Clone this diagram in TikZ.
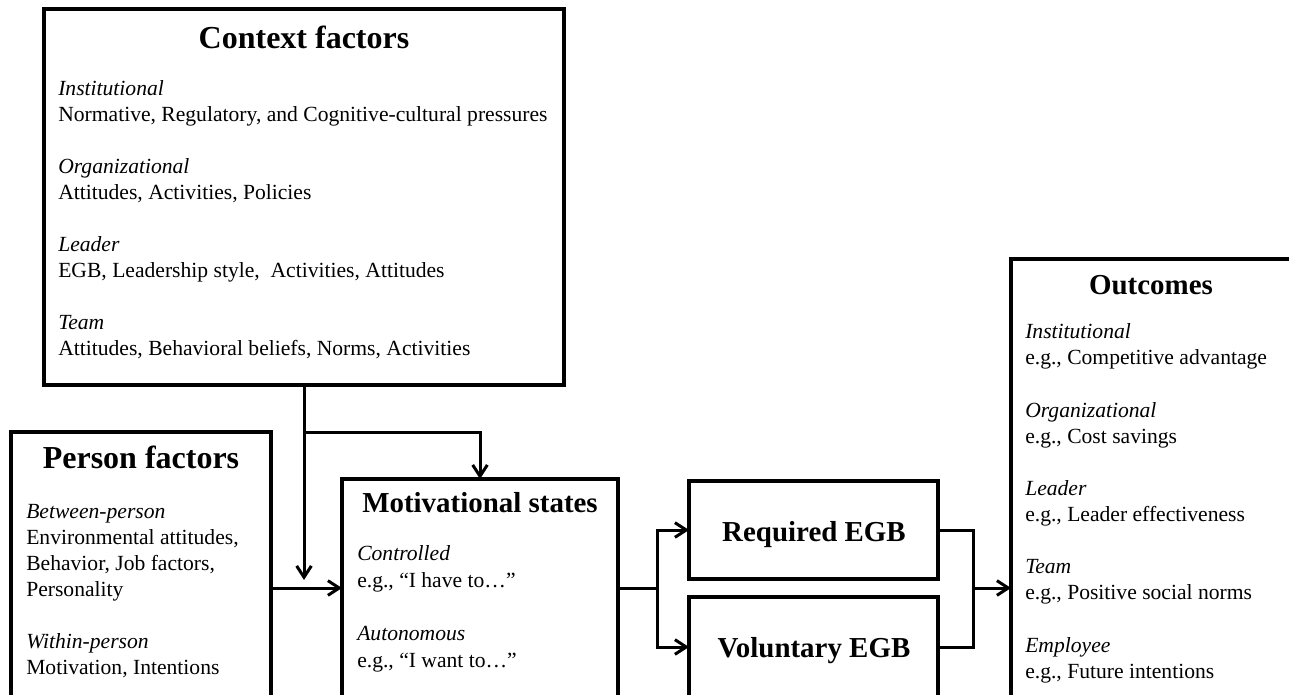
\documentclass[tikz,border=0pt]{standalone}
\usepackage{fontspec}
\setmainfont{Liberation Serif}
\usetikzlibrary{arrows.meta}
\frenchspacing

\begin{document}
\begin{tikzpicture}[x=0.75pt,y=-0.75pt,>={Straight Barb[length=8.5pt,width=11pt]},
    box node/.style={draw,line width=2.8pt,rectangle,anchor=north west,inner sep=0pt,outer sep=0pt},
    big title/.style={font=\bfseries\fontsize{24}{28}\selectfont,text height=16.3pt,text depth=0pt,inner sep=0pt},
    small title/.style={font=\bfseries\fontsize{21.7}{26}\selectfont,text height=14.8pt,text depth=0pt,inner sep=0pt},
    body node/.style={anchor=north west,align=left,inner sep=0pt,font=\fontsize{16.2}{19.5}\selectfont},
    link/.style={line width=2.25pt}]
    \useasboundingbox (0,0) rectangle (1289,695);
    \clip (0,0) rectangle (1289,695);

    % boxes
    \node[box node,minimum width=390pt,minimum height=282pt] (context) at (44,9) {};
    \node[box node,minimum width=195pt,minimum height=216pt] (person) at (11,432) {};
    \node[box node,minimum width=207pt,minimum height=181pt] (motiv) at (342,479) {};
    \node[box node,minimum width=186.75pt,minimum height=73.5pt] (req) at (689,481) {};
    \node[box node,minimum width=186.75pt,minimum height=75pt] (vol) at (689,597) {};
    \node[box node,minimum width=211pt,minimum height=346pt] (outcome) at (1011,259) {};

    % titles
    \node[big title] (contexttitle) at (304,38) {Context factors};
    \node[big title] (persontitle) at (141,458) {Person factors};
    \node[small title] (motivtitle) at (480,503) {Motivational states};
    \node[small title] (reqtitle) at (814,532) {Required EGB};
    \node[small title] (voltitle) at (814,648) {Voluntary EGB};
    \node[small title] (outcometitle) at (1151,285) {Outcomes};

    % contents
    \node[body node] (contextbody) at (58,80.4) {\textit{Institutional}\\Normative, Regulatory, and Cognitive-cultural pressures\\[19.5pt]
        \textit{Organizational}\\Attitudes, Activities, Policies\\[19.5pt]
        \textit{Leader}\\EGB, Leadership style, \ Activities, Attitudes\\[19.5pt]
        \textit{Team}\\Attitudes, Behavioral beliefs, Norms, Activities};
    \node[body node] (personbody) at (26,504.5) {\textit{Between-person}\\Environmental attitudes,\\Behavior, Job factors,\\Personality\\[19.5pt]
        \textit{Within-person}\\Motivation, Intentions};
    \node[body node,font=\fontsize{16.2}{20}\selectfont] (motivbody) at (357,545.4) {\textit{Controlled}\\e.g., “I have to…”\\[20pt]
        \textit{Autonomous}\\e.g., “I want to…”};
    \node[body node,font=\fontsize{16.2}{19.6}\selectfont] (outcomebody) at (1025,323.4) {\textit{Institutional}\\e.g., Competitive advantage\\[19.6pt]
        \textit{Organizational}\\e.g., Cost savings\\[19.6pt]
        \textit{Leader}\\e.g., Leader effectiveness\\[19.6pt]
        \textit{Team}\\e.g., Positive social norms\\[19.6pt]
        \textit{Employee}\\e.g., Future intentions};

    % connectors
    \coordinate (split) at (304,432);
    \coordinate (ctxend) at (304,580);
    \coordinate (join) at (0,588);
    \coordinate (fork) at (657,588);
    \coordinate (merge) at (973,588);

    \draw[link,->] (context.south) -- (ctxend);
    \draw[link,->] (split) -| (motiv.north);
    \draw[link,->] (person.east |- join) -- (motiv.west |- join);
    \draw[link] (motiv.east |- join) -- (fork);
    \draw[link,->] (fork) |- (req.west);
    \draw[link,->] (fork) |- (vol.west);
    \draw[link] (req.east) -| (merge);
    \draw[link] (vol.east) -| (merge);
    \draw[link,->] (merge) -- (outcome.west |- merge);
\end{tikzpicture}
\end{document}
